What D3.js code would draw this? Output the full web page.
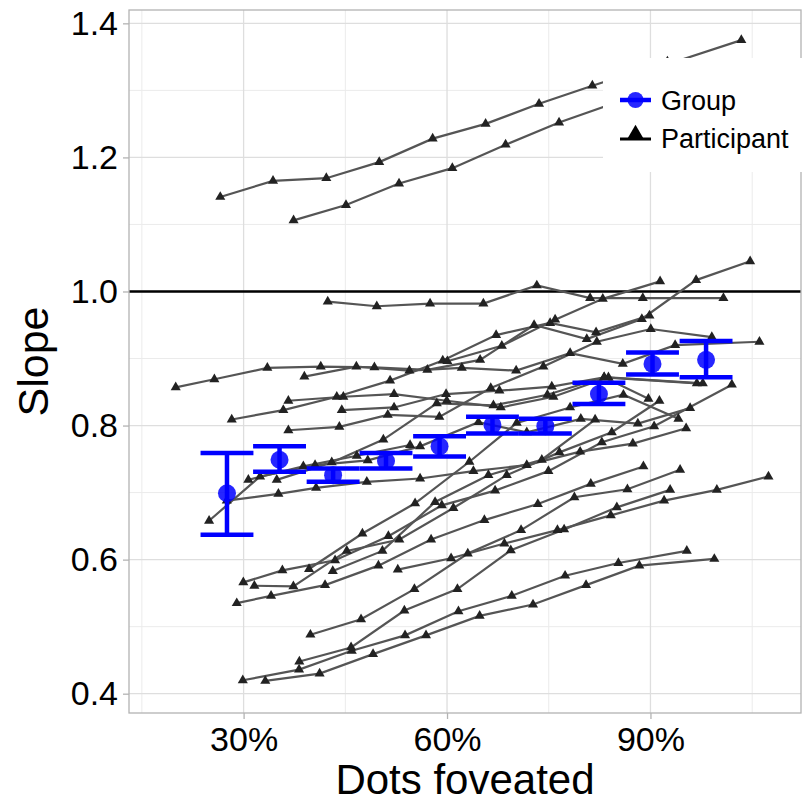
<!DOCTYPE html>
<html>
<head>
<meta charset="utf-8">
<script src="https://cdn.jsdelivr.net/npm/d3@7"></script>
<style>
  body { margin: 0; background: #fff; }
  text { font-family: "Liberation Sans", Arial, Helvetica, sans-serif; }
</style>
</head>
<body>
<div id="chart"></div>
<script>
// group means with error bars (x in % of dots foveated)
var groupX    = [27.55, 35.3, 43.2, 51.0, 58.9, 66.7, 74.5, 82.4, 90.3, 98.2];
var groupMean = [0.699, 0.749, 0.726, 0.747, 0.769, 0.801, 0.799, 0.847, 0.892, 0.898];
var groupLo   = [0.637, 0.731, 0.716, 0.736, 0.754, 0.788, 0.788, 0.832, 0.876, 0.872];
var groupHi   = [0.759, 0.769, 0.736, 0.759, 0.784, 0.813, 0.810, 0.864, 0.909, 0.926];

// one array of [x, slope] per participant
var participants = [
  [[26.56,1.141],[34.34,1.165],[42.2,1.169],[50.0,1.193],[57.88,1.228],[65.69,1.250],[73.57,1.280],[81.43,1.307],[92.5,1.343]],
  [[37.37,1.106],[45.10,1.129],[52.92,1.161],[60.78,1.184],[68.64,1.219],[76.52,1.252],[84.4,1.28],[92.2,1.338],[103.4,1.375]],
  [[33.20,0.419],[41.21,0.430],[49.09,0.459],[56.90,0.487],[64.81,0.516],[72.68,0.533],[80.50,0.562],[88.36,0.591],[99.42,0.601]],
  [[42.41,0.985],[49.64,0.978],[57.50,0.982],[65.36,0.982],[73.24,1.009],[81.10,0.990],[88.87,0.990],[100.76,0.990]],
  [[19.99,0.857],[25.69,0.869],[33.50,0.886],[41.38,0.888],[49.29,0.887],[57.10,0.883],[64.88,0.898],[72.84,0.950],[80.61,0.929],[88.73,0.959],[96.73,1.017],[104.70,1.045]],
  [[38.96,0.873],[46.63,0.888],[54.45,0.882],[62.18,0.886],[70.19,0.882],[78.15,0.908],[85.92,0.892],[93.64,0.920],[106.07,0.925]],
  [[28.99,0.535],[34.05,0.546],[42.01,0.562],[49.88,0.591],[57.65,0.630],[65.51,0.659],[73.39,0.683],[81.20,0.713],[88.96,0.739]],
  [[39.85,0.488],[47.32,0.511],[55.19,0.556],[63.06,0.609],[70.92,0.644],[78.78,0.693],[86.60,0.705],[94.37,0.734]],
  [[29.96,0.566],[35.72,0.584],[43.49,0.599],[51.35,0.635],[59.23,0.681],[67.09,0.703],[74.95,0.732],[82.83,0.775],[90.54,0.799],[102.0,0.861]],
  [[24.91,0.658],[32.43,0.724],[40.54,0.741],[48.31,0.748],[56.03,0.769],[64.63,0.805],[71.76,0.790],[79.73,0.810],[88.14,0.803],[95.85,0.826]],
  [[27.52,0.688],[35.13,0.698],[40.69,0.707],[48.17,0.716],[56.03,0.721],[63.89,0.732],[71.76,0.741],[79.63,0.761],[87.40,0.773],[95.26,0.796]],
  [[31.59,0.561],[37.34,0.560],[45.22,0.613],[52.97,0.630],[60.94,0.677],[68.81,0.726],[76.57,0.760],[84.30,0.790],[91.32,0.837]],
  [[39.65,0.586],[47.52,0.639],[55.29,0.684],[63.30,0.746],[70.29,0.804],[78.15,0.827],[86.01,0.846],[94.12,0.810]],
  [[29.88,0.420],[38.18,0.436],[45.95,0.464],[53.81,0.487],[61.68,0.523],[69.55,0.546],[77.41,0.576],[85.27,0.595],[95.36,0.613]],
  [[38.22,0.448],[45.85,0.469],[53.71,0.524],[61.53,0.556],[69.40,0.614],[77.27,0.645],[85.04,0.678],[92.90,0.704]],
  [[52.74,0.585],[60.60,0.602],[68.46,0.624],[76.28,0.644],[84.15,0.666],[92.01,0.688],[99.79,0.704],[107.4,0.724]],
  [[43.15,0.583],[50.47,0.613],[58.24,0.686],[66.10,0.726],[73.98,0.749],[81.84,0.809]],
  [[34.89,0.719],[43.00,0.745],[50.61,0.779],[58.49,0.833],[66.84,0.830],[74.80,0.846],[83.17,0.872],[96.84,0.863]],
  [[28.25,0.809],[35.86,0.823],[43.74,0.843],[51.60,0.867],[59.37,0.897],[67.24,0.935],[75.20,0.953],[81.98,0.939],[89.85,0.964]],
  [[36.60,0.837],[44.71,0.843],[52.19,0.847],[59.96,0.837],[67.93,0.827],[75.69,0.843],[83.80,0.872],[97.72,0.863]],
  [[36.60,0.793],[44.12,0.798],[51.26,0.816],[58.87,0.813],[66.45,0.856],[74.21,0.888],[82.09,0.925],[90.05,0.944],[99.05,0.932]],
  [[44.48,0.823],[52.19,0.827],[59.86,0.847],[67.72,0.852],[75.45,0.858],[83.17,0.872],[89.70,0.840]],
  [[30.70,0.719],[38.81,0.739],[46.69,0.755],[54.55,0.771]],
  [[60.05,0.896],[68.08,0.919],[75.94,0.958],[82.97,0.989],[91.42,1.015]]
];

var xTicks = [30, 60, 90];
var xMinor = [15, 45, 75, 105];
var yTicks = [0.4, 0.6, 0.8, 1.0, 1.2, 1.4];
var yMinor = [0.5, 0.7, 0.9, 1.1, 1.3];

var margin = {top: 10, right: 1, bottom: 89, left: 129}
  , width = 802 - margin.left - margin.right
  , height = 802 - margin.top - margin.bottom;

var x = d3.scaleLinear().domain([13.1, 112.2]).range([0, width]);
var y = d3.scaleLinear().domain([0.3712, 1.4199]).range([height, 0]);

var svg = d3.select('#chart').append('svg')
  .attr('width', 802).attr('height', 802);

var main = svg.append('g')
  .attr('transform', 'translate(' + margin.left + ',' + margin.top + ')');

// grid
main.selectAll('.vminor').data(xMinor).enter().append('line')
  .attr('x1', d => x(d)).attr('x2', d => x(d)).attr('y1', 0).attr('y2', height)
  .attr('stroke', '#ebebeb').attr('stroke-width', 1);
main.selectAll('.hminor').data(yMinor).enter().append('line')
  .attr('y1', d => y(d)).attr('y2', d => y(d)).attr('x1', 0).attr('x2', width)
  .attr('stroke', '#ebebeb').attr('stroke-width', 1);
main.selectAll('.vmajor').data(xTicks).enter().append('line')
  .attr('x1', d => x(d)).attr('x2', d => x(d)).attr('y1', 0).attr('y2', height)
  .attr('stroke', '#dedede').attr('stroke-width', 1.3);
main.selectAll('.hmajor').data(yTicks).enter().append('line')
  .attr('y1', d => y(d)).attr('y2', d => y(d)).attr('x1', 0).attr('x2', width)
  .attr('stroke', '#dedede').attr('stroke-width', 1.3);

// reference line at slope 1
main.append('line')
  .attr('x1', 0).attr('x2', width).attr('y1', y(1)).attr('y2', y(1))
  .attr('stroke', '#000').attr('stroke-width', 2.5);

// participants
var line = d3.line().x(d => x(d[0])).y(d => y(d[1]));
main.selectAll('.pline').data(participants).enter().append('path')
  .attr('d', line).attr('fill', 'none')
  .attr('stroke', '#555').attr('stroke-width', 2.2);

var tri = d3.symbol().type(d3.symbolTriangle).size(44);
participants.forEach(function(p) {
  main.selectAll(null).data(p).enter().append('path')
    .attr('d', tri)
    .attr('transform', d => 'translate(' + x(d[0]) + ',' + y(d[1]) + ')')
    .attr('fill', '#222');
});

// group error bars + points
var halfW = 3.9;
var gdata = groupX.map((g, i) => ({x: g, m: groupMean[i], lo: groupLo[i], hi: groupHi[i]}));
var gg = main.append('g');
gg.selectAll('.ev').data(gdata).enter().append('line')
  .attr('x1', d => x(d.x)).attr('x2', d => x(d.x))
  .attr('y1', d => y(d.lo)).attr('y2', d => y(d.hi))
  .attr('stroke', '#0000ff').attr('stroke-width', 4.5);
gg.selectAll('.et').data(gdata).enter().append('line')
  .attr('x1', d => x(d.x - halfW)).attr('x2', d => x(d.x + halfW))
  .attr('y1', d => y(d.hi)).attr('y2', d => y(d.hi))
  .attr('stroke', '#0000ff').attr('stroke-width', 4.5);
gg.selectAll('.eb').data(gdata).enter().append('line')
  .attr('x1', d => x(d.x - halfW)).attr('x2', d => x(d.x + halfW))
  .attr('y1', d => y(d.lo)).attr('y2', d => y(d.lo))
  .attr('stroke', '#0000ff').attr('stroke-width', 4.5);
gg.selectAll('circle').data(gdata).enter().append('circle')
  .attr('cx', d => x(d.x)).attr('cy', d => y(d.m)).attr('r', 9)
  .attr('fill', '#0000ff').attr('fill-opacity', 0.85);

// panel border
main.append('rect')
  .attr('width', width).attr('height', height)
  .attr('fill', 'none').attr('stroke', '#b3b3b3').attr('stroke-width', 1.3);

// axes
var xAxis = d3.axisBottom(x).tickValues(xTicks).tickSize(6).tickPadding(8)
  .tickFormat(d => d + '%');
var gx = main.append('g').attr('transform', 'translate(0,' + height + ')').call(xAxis);
var yAxis = d3.axisLeft(y).tickValues(yTicks).tickSize(6).tickPadding(5)
  .tickFormat(d3.format('.1f'));
var gy = main.append('g').call(yAxis);
[gx, gy].forEach(function(a) {
  a.select('.domain').remove();
  a.selectAll('line').attr('stroke', '#b3b3b3').attr('stroke-width', 1.3);
  a.selectAll('text').attr('fill', '#000').style('font-size', '34px')
    .style('font-family', '"Liberation Sans", Arial, sans-serif');
});

// titles
svg.append('text').attr('x', margin.left + width / 2).attr('y', 794)
  .attr('text-anchor', 'middle').style('font-size', '42px').text('Dots foveated');
svg.append('text')
  .attr('transform', 'translate(48,' + (margin.top + height / 2) + ') rotate(-90)')
  .attr('text-anchor', 'middle').style('font-size', '43px').text('Slope');

// legend
var lg = svg.append('g');
lg.append('rect').attr('x', 603).attr('y', 58).attr('width', 199).attr('height', 114)
  .attr('fill', '#fff');
lg.append('line').attr('x1', 620).attr('x2', 651).attr('y1', 100).attr('y2', 100)
  .attr('stroke', '#0000ff').attr('stroke-width', 4.5);
lg.append('circle').attr('cx', 635.5).attr('cy', 100).attr('r', 8)
  .attr('fill', '#0000ff').attr('fill-opacity', 0.85);
lg.append('line').attr('x1', 620).attr('x2', 651).attr('y1', 139).attr('y2', 139)
  .attr('stroke', '#000').attr('stroke-width', 3);
lg.append('path').attr('d', d3.symbol().type(d3.symbolTriangle).size(110))
  .attr('transform', 'translate(635.5,134)').attr('fill', '#000');
lg.append('text').attr('x', 661).attr('y', 110).style('font-size', '27px').text('Group');
lg.append('text').attr('x', 661).attr('y', 148).style('font-size', '27px').text('Participant');
</script>
</body>
</html>
